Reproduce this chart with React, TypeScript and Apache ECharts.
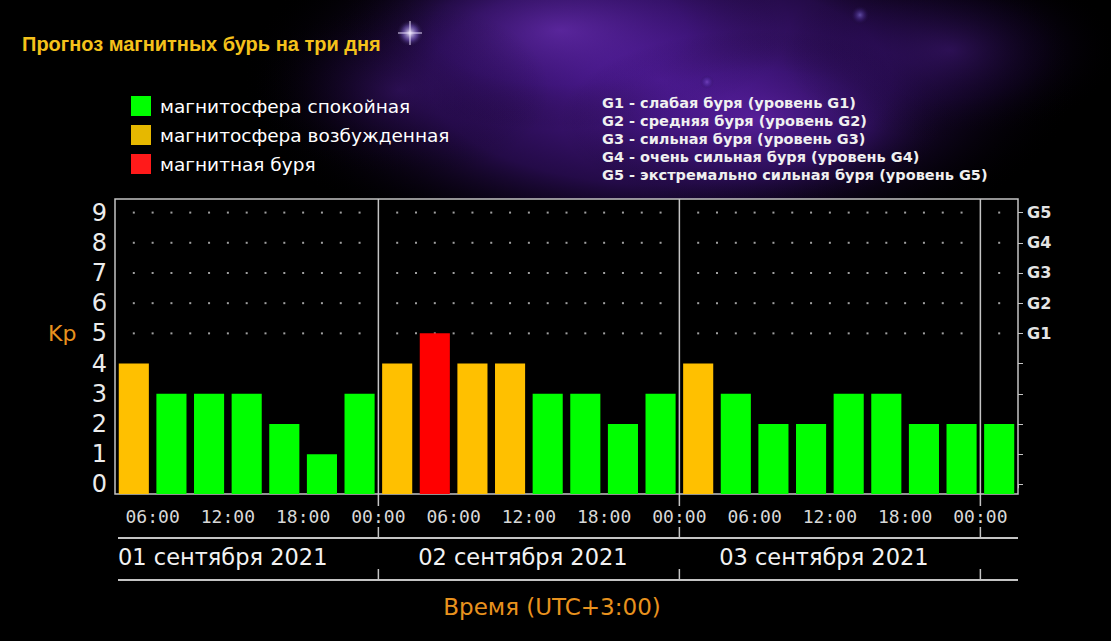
import React, { useEffect, useRef } from "react";
import * as echarts from "echarts";

const titleText = "Прогноз магнитных бурь на три дня";
const legendItems = ["магнитосфера спокойная", "магнитосфера возбужденная", "магнитная буря"];
const legendColors = ["#00ff00", "#e6b800", "#ff1a1a"];
const gNotes = [
  "G1 - слабая буря (уровень G1)",
  "G2 - средняя буря (уровень G2)",
  "G3 - сильная буря (уровень G3)",
  "G4 - очень сильная буря (уровень G4)",
  "G5 - экстремально сильная буря (уровень G5)",
];
const slots = [
  "01.09 03:00", "01.09 06:00", "01.09 09:00", "01.09 12:00", "01.09 15:00", "01.09 18:00", "01.09 21:00",
  "02.09 00:00", "02.09 03:00", "02.09 06:00", "02.09 09:00", "02.09 12:00", "02.09 15:00", "02.09 18:00", "02.09 21:00",
  "03.09 00:00", "03.09 03:00", "03.09 06:00", "03.09 09:00", "03.09 12:00", "03.09 15:00", "03.09 18:00", "03.09 21:00",
  "04.09 00:00",
];
const kp = [4, 3, 3, 3, 2, 1, 3, 4, 5, 4, 4, 3, 3, 2, 3, 4, 3, 2, 2, 3, 3, 2, 2, 2];
const kpTicks = [0, 1, 2, 3, 4, 5, 6, 7, 8, 9];
const gLevels = ["G1", "G2", "G3", "G4", "G5"];
const gKp = [5, 6, 7, 8, 9];
const timeTickLabels = ["06:00", "12:00", "18:00", "00:00", "06:00", "12:00", "18:00", "00:00", "06:00", "12:00", "18:00", "00:00"];
const timeTickPos = [1, 3, 5, 7, 9, 11, 13, 15, 17, 19, 21, 23];
const slotBounds = [0, 1, 2, 3, 4, 5, 6, 7, 8, 9, 10, 11, 12, 13, 14, 15, 16, 17, 18, 19, 20, 21, 22, 23, 24];
const dayLabels = ["01 сентября 2021", "02 сентября 2021", "03 сентября 2021"];
const dayBounds = [7, 15, 23];
const yMin = -0.32;
const yMax = 9.45;

const kpColor = (v: number) => (v >= 5 ? "#ff0000" : v >= 4 ? "#ffc000" : "#00ff00");

export default function App() {
  const ref = useRef<HTMLDivElement>(null);
  useEffect(() => {
    document.body.style.margin = "0";
    const chart = echarts.init(ref.current as HTMLDivElement, null, { renderer: "svg" });

    const dots: number[][] = [];
    for (let k = 1; k < slots.length * 2; k++) {
      const x = k / 2;
      if (dayBounds.indexOf(x) >= 0) continue;
      for (const y of gKp) dots.push([x, y]);
    }

    const border = "#c4c4c4";
    chart.setOption({
      animation: false,
      backgroundColor: "#000",
      grid: {
        left: 115,
        top: 199,
        width: 903,
        height: 295,
        show: true,
        backgroundColor: "#000",
        borderColor: border,
        borderWidth: 1.5,
        z: 1,
      },
      xAxis: [
        { type: "category", data: slots, show: false, boundaryGap: true },
        {
          type: "value",
          min: 0,
          max: slots.length,
          position: "bottom",
          axisLine: { show: false },
          splitLine: { show: false },
          axisTick: { show: true, customValues: slotBounds, length: 4, lineStyle: { color: border, width: 1 } },
          axisLabel: {
            customValues: timeTickPos,
            formatter: (v: number) => timeTickLabels[timeTickPos.indexOf(v)] ?? "",
            color: "#d8d8d8",
            fontFamily: "DejaVu Sans Mono",
            fontSize: 18,
            margin: 13,
          },
        },
      ],
      yAxis: [
        {
          type: "value",
          min: yMin,
          max: yMax,
          position: "left",
          axisLine: { show: false },
          splitLine: { show: false },
          axisTick: { show: true, inside: true, customValues: kpTicks, length: 4, lineStyle: { color: border } },
          axisLabel: {
            customValues: kpTicks,
            formatter: (v: number) => String(v),
            color: "#ececec",
            fontFamily: "DejaVu Sans",
            fontSize: 24,
            margin: 8,
          },
        },
        {
          type: "value",
          min: yMin,
          max: yMax,
          position: "right",
          axisLine: { show: false },
          splitLine: { show: false },
          axisTick: { show: true, inside: false, customValues: kpTicks, length: 5, lineStyle: { color: border } },
          axisLabel: {
            customValues: gKp,
            formatter: (v: number) => gLevels[gKp.indexOf(v)] ?? "",
            color: "#e4e4e4",
            fontFamily: "DejaVu Sans",
            fontWeight: "bold",
            fontSize: 16,
            margin: 9,
          },
        },
      ],
      series: [
        {
          type: "scatter",
          xAxisIndex: 1,
          yAxisIndex: 0,
          data: dots,
          symbol: "rect",
          symbolSize: 2,
          itemStyle: { color: "#c8c8c8" },
          silent: true,
          z: 2,
        },
        {
          type: "custom",
          xAxisIndex: 0,
          yAxisIndex: 0,
          data: kp.map((v, i) => [i, v]),
          encode: { x: 0, y: 1 },
          z: 3,
          renderItem: (params: any, api: any) => {
            const idx = api.value(0);
            const v = api.value(1);
            const top = api.coord([idx, v]);
            const base = api.coord([idx, yMin]);
            const band = api.size([1, 0])[0];
            const w = band * 0.8;
            return {
              type: "rect",
              shape: { x: top[0] - w / 2, y: top[1], width: w, height: base[1] - top[1] },
              style: { fill: kpColor(v) },
            };
          },
        },
      ],
    });

    const px = (v: number) => chart.convertToPixel({ xAxisIndex: 1 }, v) as number;
    const py = (v: number) => chart.convertToPixel({ yAxisIndex: 0 }, v) as number;
    const gridTop = py(yMax);
    const gridL = px(0);
    const gridR = px(slots.length);
    const line1Y = 538;
    const line2Y = 580;

    const elements: any[] = [];
    const neb = (cx: number, cy: number, rx: number, ry: number, c0: string, c1: string) => ({
      type: "ellipse",
      z: -10,
      silent: true,
      shape: { cx, cy, rx, ry },
      style: {
        fill: {
          type: "radial",
          x: 0.5,
          y: 0.5,
          r: 0.5,
          colorStops: [
            { offset: 0, color: c0 },
            { offset: 0.55, color: c1 },
            { offset: 1, color: "rgba(0,0,0,0)" },
          ],
        },
      },
    });
    elements.push(neb(660, 80, 420, 190, "rgba(90,30,170,0.95)", "rgba(60,18,120,0.6)"));
    elements.push(neb(560, 30, 230, 100, "rgba(120,55,200,0.55)", "rgba(70,25,140,0.3)"));
    elements.push(neb(760, 120, 200, 90, "rgba(120,45,200,0.5)", "rgba(70,25,140,0.25)"));
    elements.push(neb(950, 50, 170, 90, "rgba(80,30,150,0.45)", "rgba(45,12,95,0.2)"));
    elements.push(neb(400, 90, 150, 90, "rgba(70,25,130,0.4)", "rgba(40,10,80,0.15)"));
    elements.push(neb(860, 15, 10, 10, "rgba(140,120,230,0.6)", "rgba(90,60,180,0.2)"));
    elements.push(neb(707, 82, 7, 7, "rgba(140,90,220,0.6)", "rgba(90,60,180,0.2)"));
    elements.push(neb(410, 33, 14, 14, "rgba(255,255,255,0.95)", "rgba(160,130,255,0.35)"));
    elements.push({ type: "line", z: -9, silent: true, shape: { x1: 398, y1: 33, x2: 422, y2: 33 }, style: { stroke: "rgba(235,225,255,0.8)", lineWidth: 1.2 } });
    elements.push({ type: "line", z: -9, silent: true, shape: { x1: 410, y1: 21, x2: 410, y2: 45 }, style: { stroke: "rgba(235,225,255,0.8)", lineWidth: 1.2 } });

    elements.push({
      type: "text",
      x: 22,
      y: 44,
      style: { text: titleText, fill: "#f5c21b", font: 'bold 20px "Liberation Sans", Arial, sans-serif', verticalAlign: "middle", align: "left" },
    });
    legendItems.forEach((t, i) => {
      const cy = 106 + i * 29;
      elements.push({ type: "rect", shape: { x: 131, y: cy - 10, width: 20, height: 20 }, style: { fill: legendColors[i] } });
      elements.push({
        type: "text",
        x: 160,
        y: cy,
        style: { text: t, fill: "#ffffff", font: '18.5px "DejaVu Sans", sans-serif', verticalAlign: "middle", align: "left" },
      });
    });
    gNotes.forEach((t, i) => {
      elements.push({
        type: "text",
        x: 602,
        y: 103 + i * 18,
        style: { text: t, fill: "#f0f0f0", font: 'bold 14.5px "DejaVu Sans", sans-serif', verticalAlign: "middle", align: "left" },
      });
    });
    elements.push({
      type: "text",
      x: 48,
      y: py(5),
      style: { text: "Kp", fill: "#e8921e", font: '22px "DejaVu Sans", sans-serif', verticalAlign: "middle", align: "left" },
    });
    dayBounds.forEach((b) => {
      const x = px(b);
      elements.push({ type: "line", z: 5, shape: { x1: x, y1: gridTop, x2: x, y2: 506 }, style: { stroke: border, lineWidth: 1.5 } });
      elements.push({ type: "line", z: 5, shape: { x1: x, y1: 527, x2: x, y2: line1Y }, style: { stroke: border, lineWidth: 1.5 } });
      elements.push({ type: "line", z: 5, shape: { x1: x, y1: line2Y - 11, x2: x, y2: line2Y }, style: { stroke: border, lineWidth: 1.5 } });
    });
    elements.push({ type: "line", shape: { x1: gridL + 3, y1: line1Y, x2: gridR, y2: line1Y }, style: { stroke: border, lineWidth: 2 } });
    elements.push({ type: "line", shape: { x1: gridL + 3, y1: line2Y, x2: gridR, y2: line2Y }, style: { stroke: border, lineWidth: 2 } });
    dayLabels.forEach((t, i) => {
      const start = i === 0 ? null : px(dayBounds[i - 1]);
      const end = px(dayBounds[i]);
      const x = start === null ? gridL + 3 : (start + end) / 2 - 6;
      elements.push({
        type: "text",
        x,
        y: 557,
        style: { text: t, fill: "#f2f2f2", font: '22.5px "DejaVu Sans", sans-serif', verticalAlign: "middle", align: start === null ? "left" : "center" },
      });
    });
    elements.push({
      type: "text",
      x: 552,
      y: 607,
      style: { text: "Время (UTC+3:00)", fill: "#e8921e", font: '23px "DejaVu Sans", sans-serif', verticalAlign: "middle", align: "center" },
    });

    chart.setOption({ graphic: { elements } });

    return () => chart.dispose();
  }, []);

  return <div ref={ref} style={{ width: 1111, height: 641, background: "#000" }} />;
}
